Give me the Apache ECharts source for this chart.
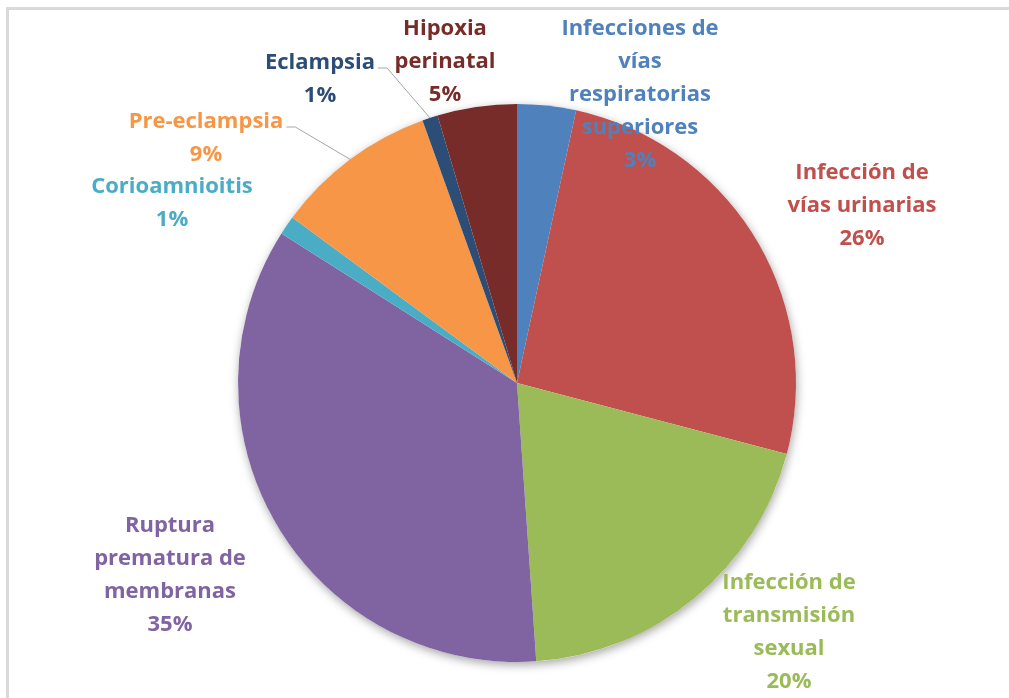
<!DOCTYPE html>
<html>
<head>
<meta charset="UTF-8">
<title></title>
<style>
  html, body { margin: 0; padding: 0; background: #fff; }
  #main { position: absolute; left: 0; top: 0; width: 1009px; height: 698px; }
  #frame { position: absolute; left: 6px; top: 7px; width: 1010px; height: 700px;
           border-top: 3px solid #d9d9d9; border-left: 3px solid #d9d9d9; pointer-events: none; }
</style>
</head>
<body>
<div id="main"></div>
<div id="frame"></div>
<script src="https://cdn.jsdelivr.net/npm/echarts@6/dist/echarts.min.js"></script>
<script>
var categories = [
  'Infecciones de\nvías\nrespiratorias\nsuperiores',
  'Infección de\nvías urinarias',
  'Infección de\ntransmisión\nsexual',
  'Ruptura\nprematura de\nmembranas',
  'Corioamnioitis',
  'Pre-eclampsia',
  'Eclampsia',
  'Hipoxia\nperinatal'
];
var values = [3.4, 25.7, 19.8, 35.1, 1.1, 9.4, 0.9, 4.6];
var colors = ['#4F81BD', '#C0504D', '#9BBB59', '#8064A2', '#4BACC6', '#F79646', '#2C4D75', '#772C2A'];

// where each label block is centred, and which ones get a leader line
var labelPos = [[640, 95], [862, 206], [789, 632], [170, 575], [172, 203], [206, 138], [320, 79], [445, 62]];
var withLine = [false, false, false, false, false, true, true, false];

var cx = 517, cy = 383, R = 279;
var total = values.reduce(function (a, b) { return a + b; }, 0);

function midAngle(i) {
  var cum = 0;
  for (var k = 0; k < i; k++) cum += values[k];
  return 2 * Math.PI * (cum + values[i] / 2) / total;
}

var data = values.map(function (v, i) {
  return {
    name: categories[i],
    value: v,
    itemStyle: { color: colors[i] },
    label: { color: colors[i] },
    labelLine: { show: withLine[i] }
  };
});

var chart = echarts.init(document.getElementById('main'));
chart.setOption({
  animation: false,
  series: [
    {
      // shadow disc under the pie
      type: 'pie',
      silent: true,
      z: 1,
      center: [cx, cy],
      radius: R,
      data: [{ value: 1 }],
      label: { show: false },
      labelLine: { show: false },
      itemStyle: {
        color: '#fff',
        shadowBlur: 10,
        shadowColor: 'rgba(0,0,0,0.35)',
        shadowOffsetX: 1,
        shadowOffsetY: 3
      }
    },
    {
      type: 'pie',
      z: 2,
      center: [cx, cy],
      radius: R,
      startAngle: 90,
      clockwise: true,
      data: data,
      itemStyle: { borderWidth: 0 },
      label: {
        show: true,
        formatter: function (p) { return p.name + '\n' + Math.round(p.percent) + '%'; },
        fontFamily: 'Open Sans',
        fontWeight: 'bold',
        fontSize: 22,
        lineHeight: 33,
        align: 'center'
      },
      labelLine: {
        lineStyle: { color: '#a6a6a6', width: 1 }
      },
      labelLayout: function (params) {
        var i = params.dataIndex;
        var p = labelPos[i];
        var out = { x: p[0], y: p[1], align: 'center', verticalAlign: 'middle' };
        if (withLine[i]) {
          var w = params.labelRect.width, h = params.labelRect.height;
          var a = midAngle(i);
          var sx = cx + R * Math.sin(a), sy = cy - R * Math.cos(a);
          var ly = p[1] - h / 2 + 22;
          var lx = p[0] + w / 2 + 3;
          out.labelLinePoints = [[sx, sy], [lx + 9, ly], [lx, ly]];
        }
        return out;
      }
    }
  ]
});
</script>
</body>
</html>
